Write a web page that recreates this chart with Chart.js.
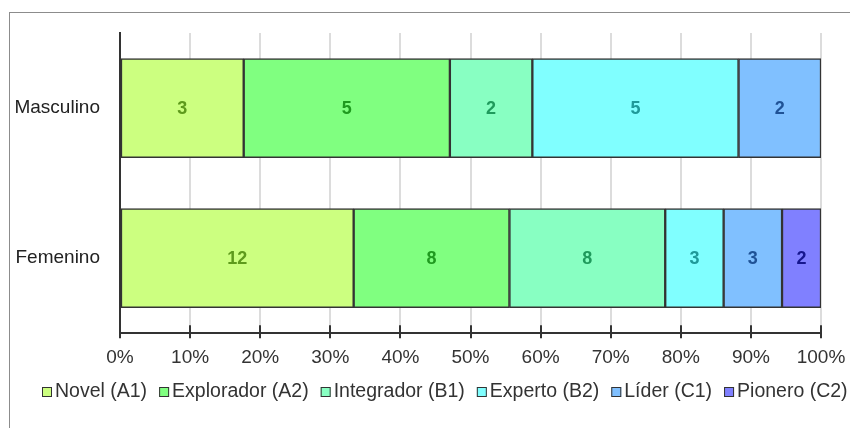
<!DOCTYPE html>
<html>
<head>
<meta charset="utf-8">
<script src="https://cdn.jsdelivr.net/npm/chart.js@4/dist/chart.umd.min.js"></script>
<style>
  html, body { margin: 0; padding: 0; background: #ffffff; overflow: hidden; }
  #wrap { position: absolute; left: 0; top: 0; width: 850px; height: 428px; }
</style>
</head>
<body>
<div id="wrap"><canvas id="c" width="850" height="428"></canvas></div>
<script>
// ---- data ----
const categories = ['Masculino', 'Femenino'];
const levelNames = ['Novel (A1)', 'Explorador (A2)', 'Integrador (B1)', 'Experto (B2)', 'Líder (C1)', 'Pionero (C2)'];
const novel      = [3, 12];
const explorador = [5, 8];
const integrador = [2, 8];
const experto    = [5, 3];
const lider      = [2, 3];
const pionero    = [0, 2];
const xTickValues = [0, 10, 20, 30, 40, 50, 60, 70, 80, 90, 100];

// ---- styles ----
const fillColors  = ['#ccff80', '#80ff80', '#88ffc2', '#80ffff', '#80c0ff', '#8080ff'];
const labelColors = ['#5e9a1c', '#1f9a1f', '#1f9a5c', '#1f9a9a', '#1f5296', '#16168e'];
const FONT = 'Liberation Sans, Arial, sans-serif';

const counts = [novel, explorador, integrador, experto, lider, pionero];
const totals = categories.map((_, i) => counts.reduce((s, arr) => s + arr[i], 0));

const datasets = counts.map((arr, k) => ({
  label: levelNames[k],
  data: arr.map((v, i) => v / totals[i] * 100),
  counts: arr,
  backgroundColor: fillColors[k],
  borderColor: '#333333',
  borderWidth: 1.5,
  borderSkipped: false,
  barThickness: 99,
  labelColor: labelColors[k]
}));

const framePlugin = {
  id: 'frame',
  beforeDraw(chart) {
    const ctx = chart.ctx;
    ctx.save();
    ctx.fillStyle = '#ffffff';
    ctx.fillRect(0, 0, chart.width, chart.height);
    ctx.strokeStyle = '#8c8c8c';
    ctx.lineWidth = 1;
    ctx.strokeRect(9.5, 12.5, 1000, 1000);
    ctx.restore();
  }
};

const ticksPlugin = {
  id: 'crossTicks',
  afterDatasetsDraw(chart) {
    const ctx = chart.ctx;
    const xs = chart.scales.x;
    const bottom = chart.chartArea.bottom;
    ctx.save();
    ctx.strokeStyle = '#333333';
    ctx.lineWidth = 2;
    xTickValues.forEach(v => {
      if (v === 0) return;
      const px = Math.round(xs.getPixelForValue(v));
      ctx.beginPath();
      ctx.moveTo(px, bottom - 8);
      ctx.lineTo(px, bottom);
      ctx.stroke();
    });
    ctx.restore();
  }
};

const labelsPlugin = {
  id: 'segLabels',
  afterDatasetsDraw(chart) {
    const ctx = chart.ctx;
    ctx.save();
    ctx.font = 'bold 18px ' + FONT;
    ctx.textAlign = 'center';
    ctx.textBaseline = 'middle';
    chart.data.datasets.forEach((ds, di) => {
      const meta = chart.getDatasetMeta(di);
      meta.data.forEach((el, i) => {
        const c = ds.counts[i];
        if (!c) return;
        const p = el.getProps(['x', 'y', 'base'], true);
        ctx.fillStyle = ds.labelColor;
        ctx.fillText(String(c), (p.x + p.base) / 2, p.y + 1);
      });
    });
    ctx.restore();
  }
};

const legendPlugin = {
  id: 'customLegend',
  afterDraw(chart) {
    const ctx = chart.ctx;
    ctx.save();
    ctx.font = '19.5px ' + FONT;
    ctx.textBaseline = 'middle';
    ctx.textAlign = 'left';
    let x = 42;
    const yc = 392;
    chart.data.datasets.forEach(ds => {
      ctx.fillStyle = ds.backgroundColor;
      ctx.fillRect(x, yc - 5, 10, 10);
      ctx.strokeStyle = '#333333';
      ctx.lineWidth = 1;
      ctx.strokeRect(x + 0.5, yc - 4.5, 9, 9);
      ctx.fillStyle = '#333333';
      const tx = x + 13;
      ctx.fillText(ds.label, tx, yc);
      x = tx + ctx.measureText(ds.label).width + 12;
    });
    ctx.restore();
  }
};

new Chart(document.getElementById('c'), {
  type: 'bar',
  data: { labels: categories, datasets },
  plugins: [framePlugin, labelsPlugin, ticksPlugin, legendPlugin],
  options: {
    indexAxis: 'y',
    responsive: false,
    animation: false,
    layout: { padding: { top: 33, right: 29, bottom: 51, left: 0 } },
    plugins: { legend: { display: false }, tooltip: { enabled: false } },
    scales: {
      x: {
        stacked: true,
        min: 0,
        max: 100,
        afterBuildTicks: s => { s.ticks = xTickValues.map(v => ({ value: v })); },
        afterFit: s => { s.paddingRight = 0; s.paddingLeft = 0; },
        ticks: {
          callback: v => v + '%',
          color: '#333333',
          font: { family: FONT, size: 19 },
          padding: 8,
          maxRotation: 0
        },
        grid: { color: '#dcdcdc', lineWidth: 2, tickColor: '#333333', tickLength: 5, drawOnChartArea: true },
        border: { display: true, color: '#333333', width: 2 }
      },
      y: {
        stacked: true,
        afterFit: s => { s.width = 120; },
        ticks: { color: '#222222', font: { family: FONT, size: 19 }, padding: 12 },
        grid: { display: false },
        border: { display: true, color: '#333333', width: 2 }
      }
    }
  }
});
</script>
</body>
</html>
